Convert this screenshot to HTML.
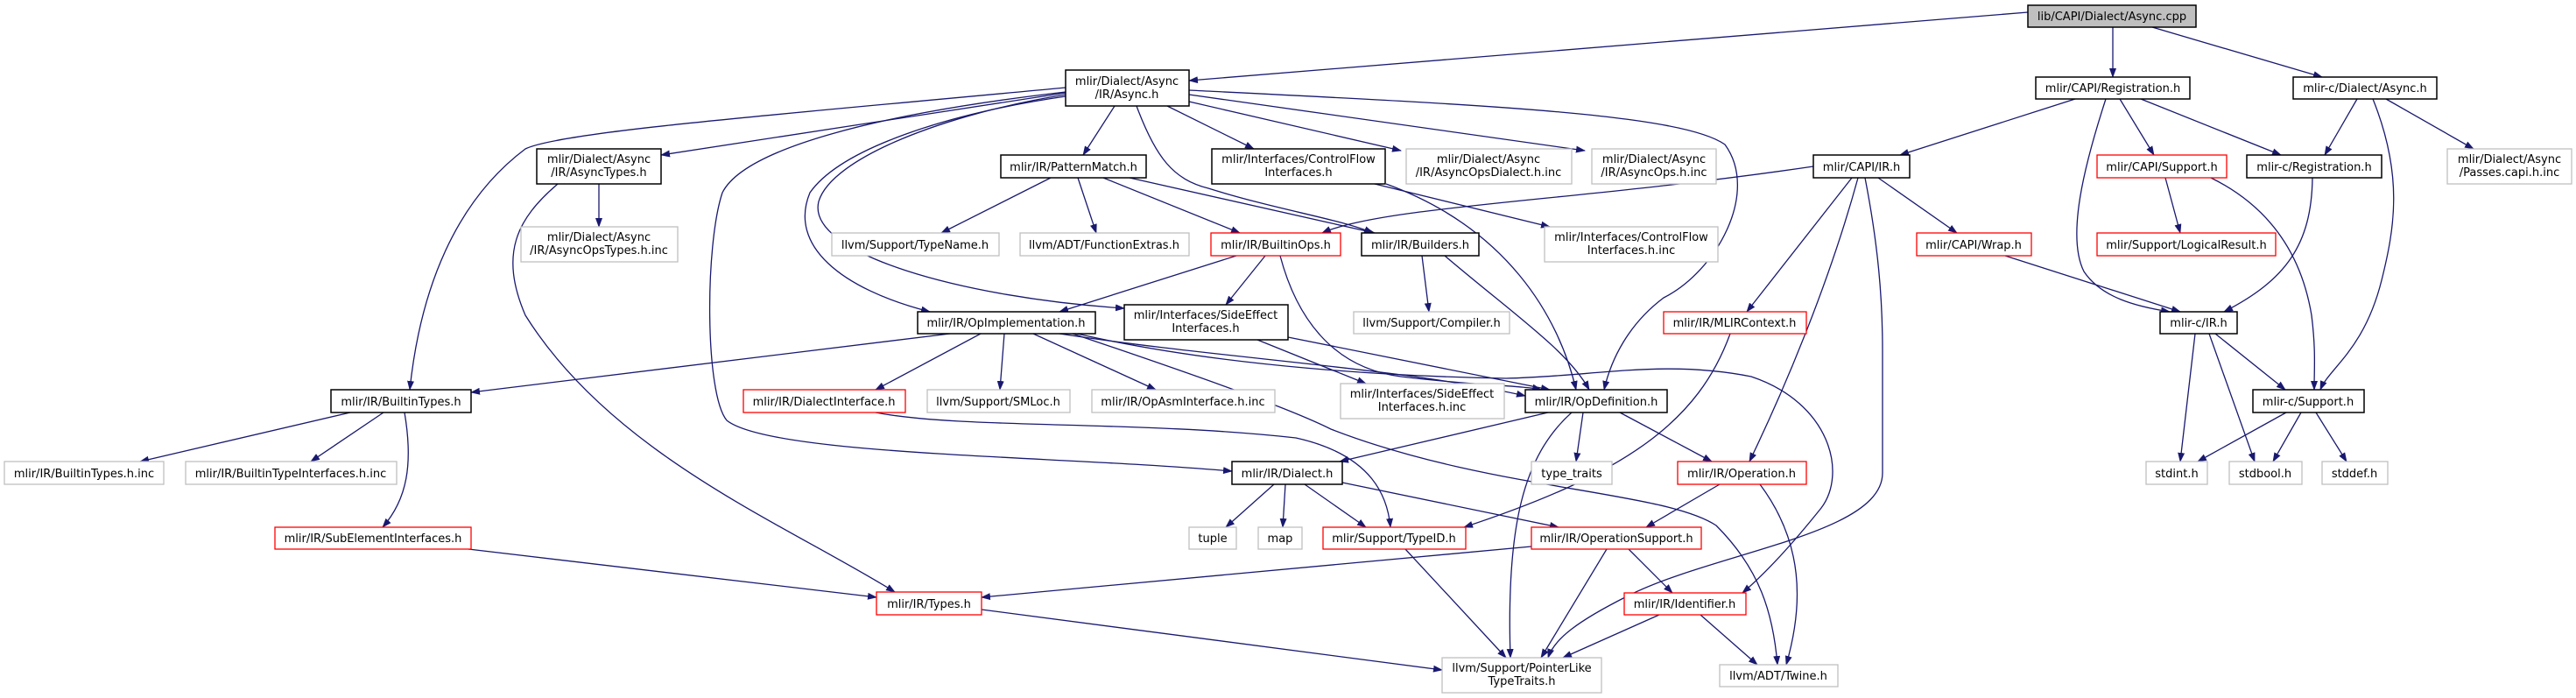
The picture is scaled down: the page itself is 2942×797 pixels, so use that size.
<!DOCTYPE html>
<html><head><meta charset="utf-8"><style>
html,body{margin:0;padding:0;background:#fff}
svg{display:block}
text{font-family:"DejaVu Sans","Liberation Sans",sans-serif;font-size:13px;fill:#000;text-anchor:middle}
.e{fill:none;stroke:#191970;stroke-width:1.3}
.n{fill:#fff;stroke:#000;stroke-width:1.5}
.r{fill:#fff;stroke:#ff0000;stroke-width:1.3}
.g{fill:#fff;stroke:#bfbfbf;stroke-width:1.3}
</style></head><body>
<svg width="2942" height="797" viewBox="0 0 2942 797" xmlns="http://www.w3.org/2000/svg">
<defs><marker id="a" markerWidth="11" markerHeight="8" refX="10" refY="4" orient="auto" markerUnits="userSpaceOnUse"><path d="M0,0 L11,4 L0,8 z" fill="#191970"/></marker></defs>
<g marker-end="url(#a)">
<path class="e" d="M2316,14 L1358,92"/>
<path class="e" d="M2413,31 L2413,88"/>
<path class="e" d="M2458,31 L2652,88"/>
<path class="e" d="M1217,106 L755,177"/>
<path class="e" d="M1217,100 C900,130 640,150 600,170 C520,230 480,330 468,445"/>
<path class="e" d="M1273,121 L1237,177"/>
<path class="e" d="M1298,121 C1320,180 1340,205 1380,215 C1460,240 1530,250 1568,266"/>
<path class="e" d="M1333,121 L1432,170"/>
<path class="e" d="M1358,116 L1600,172"/>
<path class="e" d="M1358,108 L1810,172"/>
<path class="e" d="M1358,103 C1700,120 1920,130 1970,165 C2010,220 1960,310 1900,340 C1860,370 1840,410 1832,445"/>
<path class="e" d="M1217,110 C1080,130 960,170 925,220 C900,280 960,330 1062,356"/>
<path class="e" d="M1217,108 C1080,130 950,180 935,230 C920,290 1100,340 1284,352"/>
<path class="e" d="M1217,105 C1000,130 850,170 825,220 C805,280 805,450 830,480 C880,520 1200,520 1407,538"/>
<path class="e" d="M637,210 C590,250 570,290 600,360 C700,520 900,600 1022,676"/>
<path class="e" d="M684,210 L684,259"/>
<path class="e" d="M1200,203 L1075,266"/>
<path class="e" d="M1231,203 L1252,266"/>
<path class="e" d="M1260,203 L1416,266"/>
<path class="e" d="M1290,203 L1570,266"/>
<path class="e" d="M1583,210 C1720,260 1780,360 1800,445"/>
<path class="e" d="M1570,210 L1770,259"/>
<path class="e" d="M1412,292 L1210,356"/>
<path class="e" d="M1445,292 L1400,348"/>
<path class="e" d="M1462,292 C1480,360 1520,420 1600,430 C1680,440 1740,440 1760,445"/>
<path class="e" d="M1624,292 L1632,356"/>
<path class="e" d="M1650,292 C1730,360 1790,400 1815,445"/>
<path class="e" d="M2071,190 C1800,230 1580,235 1510,266"/>
<path class="e" d="M2145,203 L2235,266"/>
<path class="e" d="M2115,203 L1995,356"/>
<path class="e" d="M2122,203 C2090,320 2040,440 1998,527"/>
<path class="e" d="M2130,203 C2145,280 2150,340 2150,400 L2150,540 C2150,610 1960,630 1860,680 C1800,710 1775,730 1768,751"/>
<path class="e" d="M2370,113 L2170,177"/>
<path class="e" d="M2405,113 C2380,190 2360,270 2380,310 C2400,340 2440,350 2478,356"/>
<path class="e" d="M2421,113 L2460,177"/>
<path class="e" d="M2445,113 L2605,177"/>
<path class="e" d="M2692,113 L2655,177"/>
<path class="e" d="M2710,113 C2745,200 2735,260 2720,320 C2700,400 2660,420 2650,445"/>
<path class="e" d="M2725,113 L2825,170"/>
<path class="e" d="M2473,203 L2490,266"/>
<path class="e" d="M2525,203 C2600,240 2630,300 2640,360 C2645,400 2643,420 2643,445"/>
<path class="e" d="M2641,203 C2640,280 2610,320 2540,356"/>
<path class="e" d="M2290,292 L2490,356"/>
<path class="e" d="M2530,381 L2610,445"/>
<path class="e" d="M2507,381 L2490,527"/>
<path class="e" d="M2523,381 L2575,527"/>
<path class="e" d="M2611,471 L2510,527"/>
<path class="e" d="M2628,471 L2596,527"/>
<path class="e" d="M2645,471 L2680,527"/>
<path class="e" d="M1976,381 C1940,480 1860,540 1672,602"/>
<path class="e" d="M1085,381 L538,448"/>
<path class="e" d="M1120,381 L1000,445"/>
<path class="e" d="M1147,381 L1142,445"/>
<path class="e" d="M1180,381 L1320,445"/>
<path class="e" d="M1210,381 C1400,410 1600,420 1742,452"/>
<path class="e" d="M1225,381 C1400,440 1480,470 1520,490 C1700,560 1900,560 1960,600 C2010,650 2025,700 2030,759"/>
<path class="e" d="M1230,381 C1400,420 1600,430 1720,432 C1820,430 1900,410 2000,430 C2090,460 2110,540 2080,580 C2040,630 2010,660 1990,677"/>
<path class="e" d="M1768,471 L1530,527"/>
<path class="e" d="M1795,471 C1740,520 1720,600 1725,751"/>
<path class="e" d="M1808,471 L1800,527"/>
<path class="e" d="M1850,471 L1955,527"/>
<path class="e" d="M1455,553 L1400,602"/>
<path class="e" d="M1468,553 L1465,602"/>
<path class="e" d="M1490,553 L1560,602"/>
<path class="e" d="M1533,551 L1780,602"/>
<path class="e" d="M1000,471 C1100,490 1300,480 1480,500 C1570,520 1585,570 1588,602"/>
<path class="e" d="M400,471 L160,527"/>
<path class="e" d="M438,471 L355,527"/>
<path class="e" d="M462,471 C472,530 465,570 437,602"/>
<path class="e" d="M535,627 L1001,682"/>
<path class="e" d="M1121,696 L1647,765"/>
<path class="e" d="M1605,627 L1720,751"/>
<path class="e" d="M1749,624 L1121,682"/>
<path class="e" d="M1835,627 L1760,751"/>
<path class="e" d="M1860,627 L1910,677"/>
<path class="e" d="M1964,553 L1880,602"/>
<path class="e" d="M2010,553 C2060,620 2060,690 2040,759"/>
<path class="e" d="M1895,702 L1785,751"/>
<path class="e" d="M1942,702 L2007,759"/>
<path class="e" d="M1436,388 L1560,438"/>
<path class="e" d="M1471,385 L1770,445"/>
</g>
<rect x="2316" y="6" width="192" height="25" fill="#bfbfbf" stroke="#000" stroke-width="1.5"/><text x="2412" y="23">lib/CAPI/Dialect/Async.cpp</text>
<rect class="n" x="1217" y="80" width="141" height="41"/><text x="1287" y="97">mlir/Dialect/Async</text><text x="1287" y="112">/IR/Async.h</text>
<rect class="n" x="2325" y="88" width="176" height="25"/><text x="2413" y="105">mlir/CAPI/Registration.h</text>
<rect class="n" x="2619" y="88" width="164" height="25"/><text x="2701" y="105">mlir-c/Dialect/Async.h</text>
<rect class="n" x="613" y="170" width="142" height="40"/><text x="684" y="186">mlir/Dialect/Async</text><text x="684" y="201">/IR/AsyncTypes.h</text>
<rect class="n" x="1143" y="177" width="166" height="26"/><text x="1226" y="195">mlir/IR/PatternMatch.h</text>
<rect class="n" x="1384" y="170" width="198" height="40"/><text x="1483" y="186">mlir/Interfaces/ControlFlow</text><text x="1483" y="201">Interfaces.h</text>
<rect class="g" x="1606" y="170" width="189" height="40"/><text x="1700" y="186">mlir/Dialect/Async</text><text x="1700" y="201">/IR/AsyncOpsDialect.h.inc</text>
<rect class="g" x="1818" y="170" width="142" height="40"/><text x="1889" y="186">mlir/Dialect/Async</text><text x="1889" y="201">/IR/AsyncOps.h.inc</text>
<rect class="n" x="2071" y="177" width="110" height="26"/><text x="2126" y="195">mlir/CAPI/IR.h</text>
<rect class="r" x="2395" y="177" width="148" height="26"/><text x="2469" y="195">mlir/CAPI/Support.h</text>
<rect class="n" x="2566" y="177" width="154" height="26"/><text x="2643" y="195">mlir-c/Registration.h</text>
<rect class="g" x="2795" y="170" width="142" height="40"/><text x="2866" y="186">mlir/Dialect/Async</text><text x="2866" y="201">/Passes.capi.h.inc</text>
<rect class="g" x="595" y="259" width="179" height="40"/><text x="684" y="275">mlir/Dialect/Async</text><text x="684" y="290">/IR/AsyncOpsTypes.h.inc</text>
<rect class="g" x="950" y="266" width="191" height="26"/><text x="1045" y="284">llvm/Support/TypeName.h</text>
<rect class="g" x="1165" y="266" width="193" height="26"/><text x="1261" y="284">llvm/ADT/FunctionExtras.h</text>
<rect class="r" x="1383" y="266" width="148" height="26"/><text x="1457" y="284">mlir/IR/BuiltinOps.h</text>
<rect class="n" x="1555" y="266" width="134" height="26"/><text x="1622" y="284">mlir/IR/Builders.h</text>
<rect class="g" x="1764" y="259" width="198" height="40"/><text x="1863" y="275">mlir/Interfaces/ControlFlow</text><text x="1863" y="290">Interfaces.h.inc</text>
<rect class="r" x="2189" y="266" width="131" height="26"/><text x="2254" y="284">mlir/CAPI/Wrap.h</text>
<rect class="r" x="2395" y="266" width="204" height="26"/><text x="2497" y="284">mlir/Support/LogicalResult.h</text>
<rect class="n" x="1048" y="356" width="203" height="25"/><text x="1149" y="373">mlir/IR/OpImplementation.h</text>
<rect class="n" x="1284" y="348" width="187" height="40"/><text x="1377" y="364">mlir/Interfaces/SideEffect</text><text x="1377" y="379">Interfaces.h</text>
<rect class="g" x="1546" y="356" width="178" height="25"/><text x="1635" y="373">llvm/Support/Compiler.h</text>
<rect class="r" x="1900" y="356" width="163" height="25"/><text x="1981" y="373">mlir/IR/MLIRContext.h</text>
<rect class="n" x="2467" y="356" width="88" height="25"/><text x="2511" y="373">mlir-c/IR.h</text>
<rect class="n" x="378" y="445" width="160" height="26"/><text x="458" y="463">mlir/IR/BuiltinTypes.h</text>
<rect class="r" x="849" y="445" width="185" height="26"/><text x="941" y="463">mlir/IR/DialectInterface.h</text>
<rect class="g" x="1059" y="445" width="163" height="26"/><text x="1140" y="463">llvm/Support/SMLoc.h</text>
<rect class="g" x="1247" y="445" width="209" height="26"/><text x="1351" y="463">mlir/IR/OpAsmInterface.h.inc</text>
<rect class="g" x="1531" y="438" width="187" height="40"/><text x="1624" y="454">mlir/Interfaces/SideEffect</text><text x="1624" y="469">Interfaces.h.inc</text>
<rect class="n" x="1742" y="445" width="162" height="26"/><text x="1823" y="463">mlir/IR/OpDefinition.h</text>
<rect class="n" x="2573" y="445" width="127" height="26"/><text x="2636" y="463">mlir-c/Support.h</text>
<rect class="g" x="5" y="527" width="182" height="26"/><text x="96" y="545">mlir/IR/BuiltinTypes.h.inc</text>
<rect class="g" x="212" y="527" width="241" height="26"/><text x="332" y="545">mlir/IR/BuiltinTypeInterfaces.h.inc</text>
<rect class="n" x="1407" y="527" width="126" height="26"/><text x="1470" y="545">mlir/IR/Dialect.h</text>
<rect class="g" x="1749" y="527" width="92" height="26"/><text x="1795" y="545">type_traits</text>
<rect class="r" x="1916" y="527" width="147" height="26"/><text x="1989" y="545">mlir/IR/Operation.h</text>
<rect class="g" x="2451" y="527" width="70" height="26"/><text x="2486" y="545">stdint.h</text>
<rect class="g" x="2546" y="527" width="83" height="26"/><text x="2587" y="545">stdbool.h</text>
<rect class="g" x="2652" y="527" width="75" height="26"/><text x="2689" y="545">stddef.h</text>
<rect class="r" x="314" y="602" width="224" height="25"/><text x="426" y="619">mlir/IR/SubElementInterfaces.h</text>
<rect class="g" x="1358" y="602" width="54" height="25"/><text x="1385" y="619">tuple</text>
<rect class="g" x="1437" y="602" width="50" height="25"/><text x="1462" y="619">map</text>
<rect class="r" x="1511" y="602" width="163" height="25"/><text x="1592" y="619">mlir/Support/TypeID.h</text>
<rect class="r" x="1749" y="602" width="194" height="25"/><text x="1846" y="619">mlir/IR/OperationSupport.h</text>
<rect class="r" x="1001" y="676" width="120" height="26"/><text x="1061" y="694">mlir/IR/Types.h</text>
<rect class="r" x="1855" y="677" width="139" height="25"/><text x="1924" y="694">mlir/IR/Identifier.h</text>
<rect class="g" x="1647" y="751" width="182" height="40"/><text x="1738" y="767">llvm/Support/PointerLike</text><text x="1738" y="782">TypeTraits.h</text>
<rect class="g" x="1964" y="759" width="135" height="25"/><text x="2031" y="776">llvm/ADT/Twine.h</text>
</svg>
</body></html>
